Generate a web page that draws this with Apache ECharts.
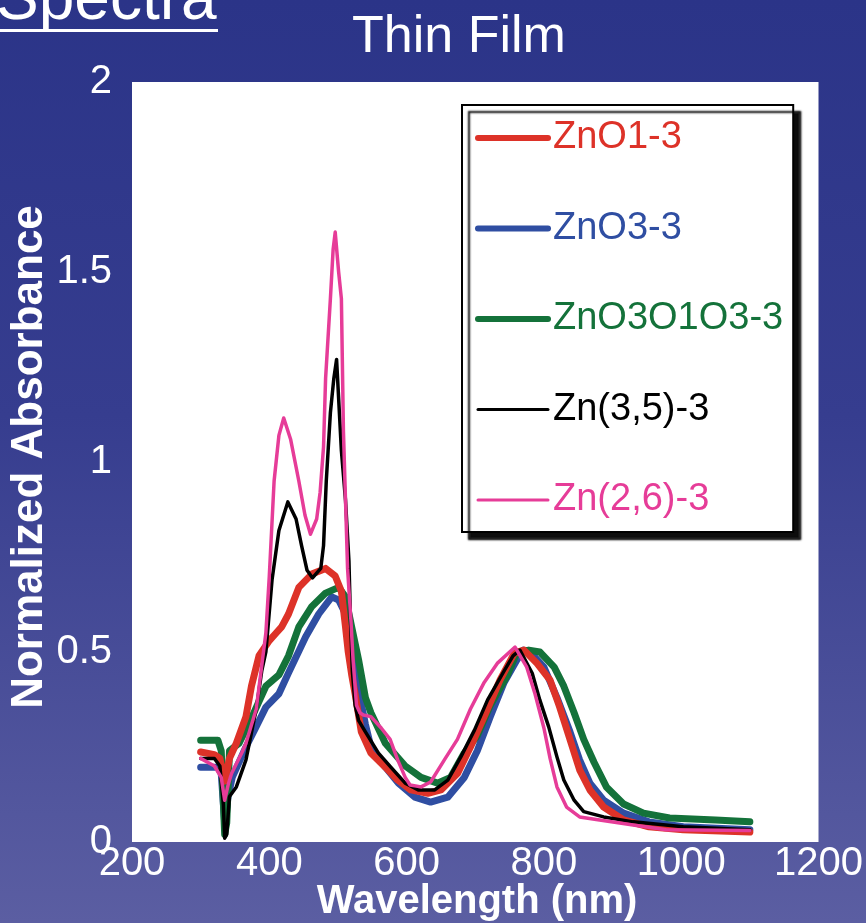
<!DOCTYPE html>
<html>
<head>
<meta charset="utf-8">
<script src="https://cdn.jsdelivr.net/npm/echarts@6/dist/echarts.min.js"></script>
<style>
html,body{margin:0;padding:0;}
#chart{width:866px;height:923px;}
</style>
</head>
<body>
<div id="chart"></div>
<script>
// ---- data (wavelength nm, normalized absorbance) ----
const seriesNames = ['ZnO1-3', 'ZnO3-3', 'ZnO3O1O3-3', 'Zn(3,5)-3', 'Zn(2,6)-3'];
const seriesColors = ['#dd3228', '#2f4ea2', '#14723a', '#000000', '#e63c98'];

const zno13 = [[300,0.237],[320,0.23],[328,0.22],[335,0.16],[342,0.22],[352,0.26],[366,0.33],[374,0.41],[385,0.49],[400,0.53],[410,0.55],[418,0.566],[428,0.6],[443,0.67],[462,0.705],[482,0.72],[496,0.70],[505,0.66],[511,0.566],[515,0.5],[520,0.44],[525,0.39],[534,0.29],[548,0.234],[569,0.197],[587,0.163],[606,0.137],[631,0.128],[650,0.137],[674,0.18],[693,0.25],[713,0.33],[736,0.426],[757,0.497],[771,0.505],[790,0.47],[809,0.426],[823,0.355],[838,0.27],[852,0.19],[867,0.137],[887,0.092],[916,0.058],[953,0.04],[1003,0.032],[1100,0.026]];

const zno33 = [[300,0.197],[325,0.197],[330,0.18],[335,0.05],[340,0.12],[346,0.17],[366,0.25],[380,0.3],[395,0.355],[414,0.39],[428,0.445],[453,0.54],[472,0.6],[491,0.645],[501,0.637],[511,0.6],[520,0.5],[530,0.4],[540,0.31],[548,0.25],[569,0.197],[588,0.155],[612,0.118],[635,0.105],[660,0.118],[684,0.17],[703,0.24],[722,0.33],[742,0.42],[761,0.48],[770,0.505],[785,0.49],[800,0.46],[819,0.38],[838,0.29],[852,0.216],[867,0.155],[887,0.11],[916,0.076],[953,0.053],[1003,0.04],[1100,0.032]];

const zno3o1o33 = [[300,0.268],[325,0.268],[330,0.24],[335,0.02],[338,0.05],[342,0.24],[356,0.26],[375,0.33],[395,0.41],[414,0.44],[428,0.49],[443,0.566],[462,0.62],[482,0.655],[501,0.67],[511,0.645],[520,0.566],[530,0.48],[540,0.38],[548,0.34],[569,0.26],[598,0.2],[621,0.17],[645,0.155],[664,0.17],[684,0.234],[703,0.28],[722,0.36],[747,0.44],[761,0.5],[778,0.505],[794,0.5],[815,0.46],[829,0.41],[844,0.34],[858,0.27],[873,0.21],[891,0.145],[916,0.1],[945,0.076],[983,0.063],[1050,0.058],[1100,0.053]];

const zn353 = [[300,0.22],[320,0.22],[328,0.2],[333,0.1],[335,0.01],[338,0.02],[342,0.12],[352,0.145],[366,0.216],[381,0.35],[389,0.45],[395,0.5],[404,0.69],[414,0.82],[427,0.895],[439,0.85],[447,0.78],[455,0.715],[463,0.695],[475,0.72],[479,0.78],[483,0.95],[489,1.13],[494,1.22],[498,1.27],[505,1.03],[511,0.9],[516,0.74],[518,0.6],[521,0.45],[525,0.36],[530,0.32],[540,0.29],[559,0.234],[577,0.197],[598,0.155],[617,0.137],[641,0.137],[660,0.163],[679,0.224],[699,0.295],[718,0.374],[742,0.45],[755,0.49],[765,0.505],[783,0.444],[794,0.374],[807,0.303],[819,0.224],[829,0.163],[844,0.11],[858,0.08],[887,0.066],[930,0.053],[1003,0.04],[1100,0.032]];

const zn263 = [[300,0.22],[320,0.2],[330,0.17],[335,0.11],[340,0.15],[345,0.18],[360,0.235],[366,0.26],[381,0.35],[388,0.45],[395,0.55],[400,0.7],[407,0.95],[414,1.07],[421,1.116],[431,1.06],[443,0.95],[452,0.86],[460,0.81],[469,0.85],[474,0.92],[479,1.04],[482,1.22],[489,1.43],[493,1.56],[496,1.605],[501,1.5],[505,1.43],[508,1.08],[511,0.9],[514,0.72],[519,0.58],[522,0.48],[527,0.36],[532,0.34],[537,0.334],[548,0.33],[563,0.30],[576,0.27],[587,0.216],[598,0.17],[605,0.15],[621,0.145],[635,0.158],[655,0.216],[674,0.27],[693,0.35],[713,0.42],[732,0.47],[758,0.513],[775,0.46],[787,0.39],[800,0.30],[809,0.22],[819,0.145],[833,0.092],[852,0.066],[881,0.058],[930,0.045],[978,0.032],[1100,0.03]];

const xTicks = {min: 200, max: 1200, interval: 200};
const yTicks = {min: 0, max: 2, interval: 0.5};

const seriesData = [zno13, zno33, zno3o1o33, zn353, zn263];
const lineWidths = [7, 7, 7, 3.5, 3.5];
const legendLineWidths = [6, 6, 6, 3, 3];
// draw order (bottom to top)
const drawOrder = [1, 2, 0, 3, 4];

const chart = echarts.init(document.getElementById('chart'), null, {renderer: 'canvas'});

const series = drawOrder.map(i => ({
  name: seriesNames[i],
  type: 'line',
  data: seriesData[i],
  symbol: 'none',
  smooth: false,
  lineStyle: {color: seriesColors[i], width: lineWidths[i], join: 'round', cap: 'round'},
  itemStyle: {color: seriesColors[i]},
  z: 2 + drawOrder.indexOf(i),
  emphasis: {disabled: true}
}));

const FONT = '"Liberation Sans", Arial, sans-serif';

const option = {
  animation: false,
  backgroundColor: {
    type: 'linear', x: 0, y: 0, x2: 0, y2: 1,
    colorStops: [
      {offset: 0, color: '#2b3488'},
      {offset: 0.45, color: '#363d8f'},
      {offset: 1, color: '#5b5ea2'}
    ]
  },
  grid: {
    left: 132, right: 44, top: 82, bottom: 81,
    show: true, backgroundColor: '#ffffff', borderWidth: 0
  },
  xAxis: {
    type: 'value', min: xTicks.min, max: xTicks.max, interval: xTicks.interval,
    axisLine: {show: false}, axisTick: {show: false}, splitLine: {show: false},
    axisLabel: {color: '#ffffff', fontFamily: FONT, fontSize: 40, margin: 2, lineHeight: 40,
      formatter: v => String(v)}
  },
  yAxis: {
    type: 'value', min: yTicks.min, max: yTicks.max, interval: yTicks.interval,
    axisLine: {show: false}, axisTick: {show: false}, splitLine: {show: false},
    axisLabel: {color: '#ffffff', fontFamily: FONT, fontSize: 40, margin: 20, lineHeight: 40, padding: [0, 0, 16, 0],
      formatter: v => String(v)}
  },
  legend: {
    orient: 'vertical',
    left: 462, top: 105,
    padding: [11, 10, 10, 13],
    itemWidth: 70, itemHeight: 1, itemGap: 46.5,
    backgroundColor: '#ffffff',
    borderColor: '#000000', borderWidth: 2,
    shadowColor: 'rgba(0,0,0,0.95)', shadowBlur: 2, shadowOffsetX: 7, shadowOffsetY: 7,
    selectedMode: false,
    textStyle: {fontFamily: FONT, fontSize: 38, lineHeight: 44},
    data: seriesNames.map((n, i) => ({
      name: n,
      textStyle: {color: seriesColors[i]},
      lineStyle: {color: seriesColors[i], width: legendLineWidths[i]},
      itemStyle: {color: seriesColors[i], opacity: 0}
    }))
  },
  graphic: [
    {type: 'text', style: {text: 'Thin Film', x: 459, y: 38, fill: '#ffffff', font: '52px ' + FONT, align: 'center', verticalAlign: 'middle'}, silent: true},
    {type: 'text', style: {text: 'Spectra', x: -4, y: 33, fill: '#ffffff', font: '64px ' + FONT, align: 'left', verticalAlign: 'bottom'}, silent: true},
    {type: 'rect', shape: {x: 0, y: 29, width: 218, height: 3}, style: {fill: '#ffffff'}, silent: true},
    {type: 'text', rotation: Math.PI / 2, x: 30, y: 457, style: {text: 'Normalized Absorbance', x: 0, y: 0, fill: '#ffffff', font: 'bold 44px ' + FONT, align: 'center', verticalAlign: 'middle'}, silent: true},
    {type: 'text', style: {text: 'Wavelength (nm)', x: 477, y: 902, fill: '#ffffff', font: 'bold 40px ' + FONT, align: 'center', verticalAlign: 'middle'}, silent: true}
  ],
  series: series
};
chart.setOption(option);
</script>
</body>
</html>
